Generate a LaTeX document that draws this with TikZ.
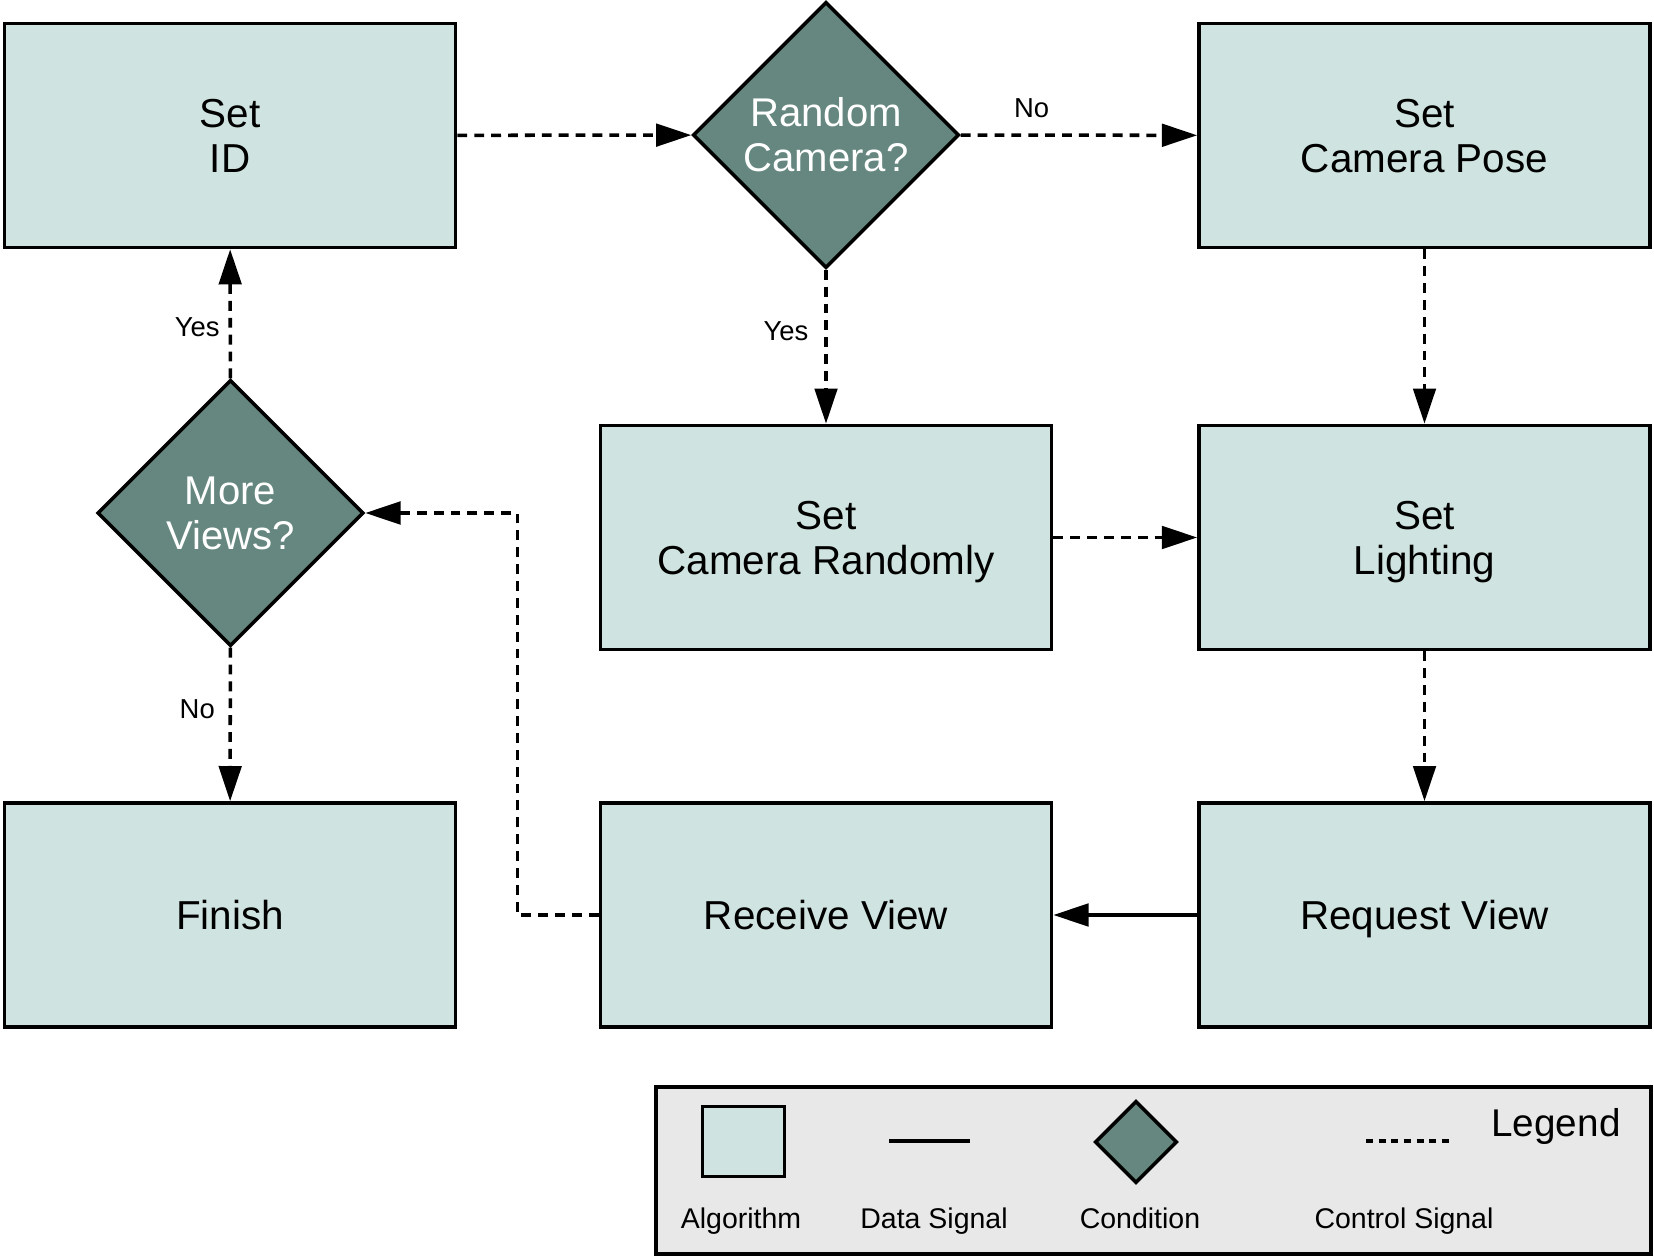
\documentclass[tikz,border=0pt]{standalone}
\usepackage{fontspec}
\setmainfont{Liberation Sans}
\usetikzlibrary{shapes.geometric,arrows.meta}
\definecolor{algfill}{HTML}{CFE4E0}
\definecolor{condfill}{HTML}{65877F}
\definecolor{legfill}{HTML}{E8E8E8}
% keep descenders from moving the text up
\newcommand{\nodesc}[1]{\raisebox{0pt}[\height][0pt]{#1}}

\begin{document}
\begin{tikzpicture}[x=0.01cm,y=-0.01cm,
  algo/.style={draw,line width=1pt,fill=algfill,minimum width=4.51cm,minimum height=2.24cm,align=center,font=\fontsize{11.5}{12.8}\selectfont},
  cond/.style={diamond,draw,line width=1pt,fill=condfill,text=white,minimum width=2.66cm,minimum height=2.66cm,inner sep=0pt,align=center,font=\fontsize{11.4}{12.8}\selectfont},
  ctrl/.style={line width=1pt,dash pattern=on 2.8pt off 2pt,-{Triangle[length=10pt,width=6.4pt]}},
  data/.style={line width=1pt,-{Triangle[length=10pt,width=6.4pt]}},
  lbl/.style={font=\fontsize{7.8}{9}\selectfont},
  leg/.style={font=\fontsize{8.1}{9}\selectfont,text height=1.6ex,text depth=0.4ex}]
\useasboundingbox (0,0) rectangle (1654,1258);

% flow
\node[algo] (setid) at (230,135.5) {Set\\ID};
\node[cond] (random) at (826,135) {Random\\Camera?};
\node[algo] (pose) at (1424.5,135.5) {Set\\\nodesc{Camera Pose}};
\node[algo] (randomly) at (826,537.5) {Set\\\nodesc{Camera Randomly}};
\node[algo] (lighting) at (1424.5,537.5) {Set\\\nodesc{Lighting}};
\node[cond] (more) at (230.5,513) {More\\Views?};
\node[algo] (finish) at (230,915) {Finish};
\node[algo] (receive) at (826,915) {Receive View};
\node[algo] (request) at (1424.5,915) {\nodesc{Request View}};

\draw[ctrl] (setid) -- (random);
\draw[ctrl] (random) -- node[lbl,pos=0.3,yshift=0.265cm]{No} (pose);
\draw[ctrl] (random) -- node[lbl,pos=0.4,xshift=-0.4cm]{Yes} (randomly);
\draw[ctrl] (pose) -- (lighting);
\draw[ctrl] (randomly) -- (lighting);
\draw[ctrl] (lighting) -- (request);
\draw[data] (request) -- (receive);
\draw[ctrl] (receive.west) -- ++(-81,0) |- (more.east);
\draw[ctrl] (more) -- node[lbl,pos=0.4,xshift=-0.33cm]{Yes} (setid);
\draw[ctrl] (more) -- node[lbl,pos=0.4,xshift=-0.33cm]{No} (finish);

% legend
\draw[line width=1pt,fill=legfill] (656,1087) rectangle (1651,1254);
\node[draw,line width=1pt,fill=algfill,minimum width=0.82cm,minimum height=0.70cm] (legalgo) at (743.5,1141.5) {};
\draw[line width=1pt] (889,1141) -- (970,1141);
\node[diamond,draw,line width=1pt,fill=condfill,minimum width=0.82cm,minimum height=0.82cm,inner sep=0pt] (legcond) at (1136,1142) {};
\draw[line width=1pt,dash pattern=on 2pt off 1.6pt] (1366,1141) -- (1449,1141);
\node[font=\fontsize{11}{12}\selectfont] at (1556,1126) {Legend};
\node[leg] at (741,1217) {Algorithm};
\node[leg] at (934,1217) {Data Signal};
\node[leg] at (1140,1217) {Condition};
\node[leg] at (1404,1217) {Control Signal};
\end{tikzpicture}
\end{document}
